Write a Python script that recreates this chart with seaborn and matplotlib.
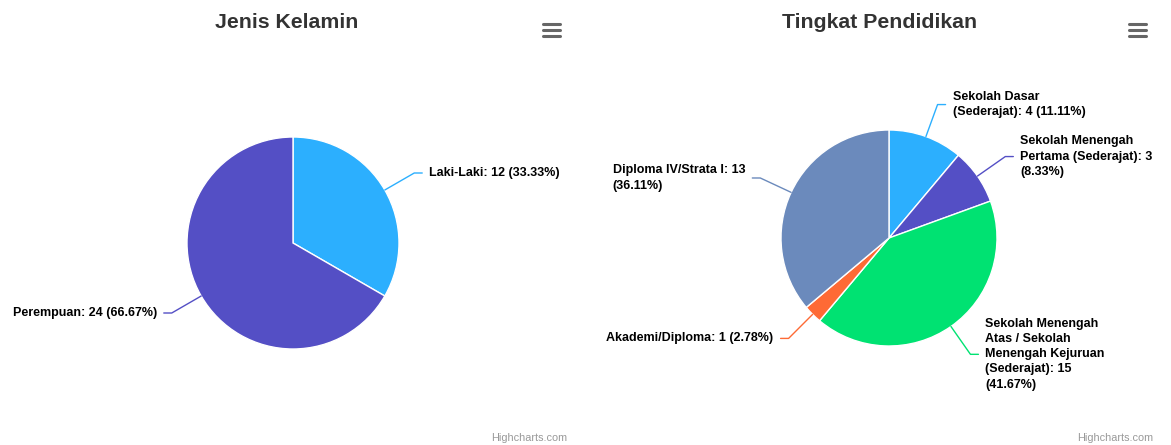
import textwrap
import numpy as np
import matplotlib.pyplot as plt
from matplotlib.lines import Line2D
import seaborn as sns

# Data
gender_labels = ['Laki-Laki', 'Perempuan']
gender_counts = [12, 24]
gender_colors = ['#2caffe', '#544fc5']

edu_labels = ['Sekolah Dasar (Sederajat)',
              'Sekolah Menengah Pertama (Sederajat)',
              'Sekolah Menengah Atas / Sekolah Menengah Kejuruan (Sederajat)',
              'Akademi/Diploma',
              'Diploma IV/Strata I']
edu_counts = [4, 3, 15, 1, 13]
edu_colors = ['#2caffe', '#544fc5', '#00e272', '#fe6a35', '#6b8abc']
edu_wrap = [23, 22, 17, 40, 23]

W, H = 1171, 445

sns.set_theme(style='white')
plt.rcParams['font.family'] = ['Liberation Sans', 'DejaVu Sans']

fig = plt.figure(figsize=(W / 100, H / 100), dpi=100)


def draw_pie(x0, x1, cx, cy, r, title, tx, labels, counts, colors, wraps):
    ax = fig.add_axes([x0 / W, 0, (x1 - x0) / W, 1])
    total = sum(counts)
    ax.pie(counts, colors=colors, startangle=90, counterclock=False,
           wedgeprops=dict(edgecolor='white', linewidth=1))
    # 1 data unit = r pixels
    ax.set_xlim((x0 - cx) / r, (x1 - cx) / r)
    ax.set_ylim((cy - H) / r, cy / r)
    ax.set_aspect('auto')
    ax.axis('off')

    d = 34 / r
    start = 0
    for lab, n, col, wr in zip(labels, counts, colors, wraps):
        mid = np.deg2rad((start + n / 2) / total * 360)
        start += n
        ux, uy = np.sin(mid), np.cos(mid)
        s = 1 if ux >= 0 else -1
        bx, by = (1 + d) * ux, (1 + d) * uy
        ax.plot([ux, bx, bx + s * 8 / r], [uy, by, by], color=col, lw=1,
                clip_on=False)
        txt = textwrap.fill(f'{lab}: {n} ({n / total * 100:.2f}%)', wr)
        ax.text(bx + s * 15 / r, by, txt, ha='left' if s > 0 else 'right',
                multialignment='left', va='center', fontsize=9,
                fontweight='bold', color='black', linespacing=1.35)

    fig.text(tx / W, 1 - 22 / H, title, ha='center', va='center',
             fontsize=15.3, fontweight='bold', color='#333333')

    # menu icon
    mx = x1 - 42
    for yy in (24, 30, 36):
        fig.add_artist(Line2D([mx / W, (mx + 17) / W], [1 - yy / H, 1 - yy / H],
                              color='#666666', lw=2.2, solid_capstyle='round'))
    fig.text((x1 - 18) / W, 1 - 438 / H, 'Highcharts.com', ha='right',
             va='center', fontsize=7.8, color='#999999')


draw_pie(0, 585, 293, 243, 106, 'Jenis Kelamin', 287,
         gender_labels, gender_counts, gender_colors, [40, 40])
draw_pie(585, 1171, 889, 238, 108, 'Tingkat Pendidikan', 880,
         edu_labels, edu_counts, edu_colors, edu_wrap)

fig.savefig('out.png', dpi=100)
